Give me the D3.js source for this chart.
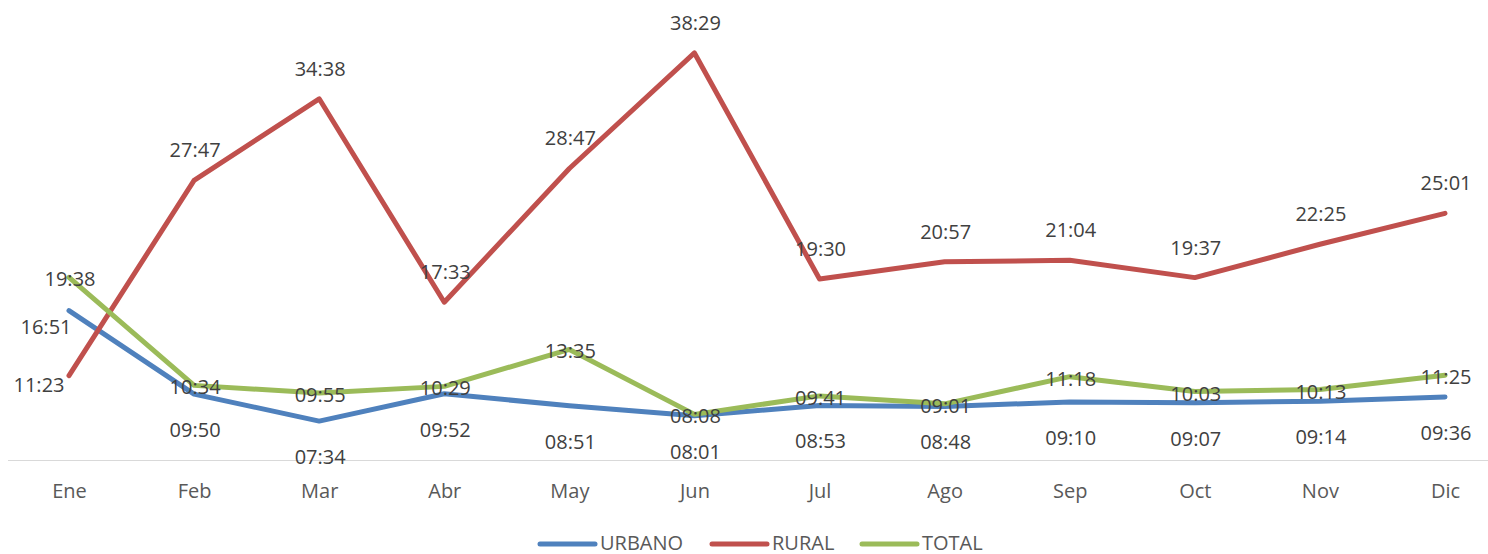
<!DOCTYPE html>
<html>
<head>
<meta charset="utf-8">
<script src="https://cdn.jsdelivr.net/npm/d3@7"></script>
<style>
  body { margin: 0; background: #fff; }
  svg text { font-family: "Open Sans", sans-serif; }
</style>
</head>
<body>
<div class="chart"></div>
<script>
const months = ["Ene", "Feb", "Mar", "Abr", "May", "Jun", "Jul", "Ago", "Sep", "Oct", "Nov", "Dic"];
const urbano = ["16:51", "09:50", "07:34", "09:52", "08:51", "08:01", "08:53", "08:48", "09:10", "09:07", "09:14", "09:36"];
const rural  = ["11:23", "27:47", "34:38", "17:33", "28:47", "38:29", "19:30", "20:57", "21:04", "19:37", "22:25", "25:01"];
const total  = ["19:38", "10:34", "09:55", "10:29", "13:35", "08:08", "09:41", "09:01", "11:18", "10:03", "10:13", "11:25"];

const w = 1488, h = 554;

// mm:ss -> minutes
const toMin = s => { let p = s.split(":"); return +p[0] + (+p[1]) / 60; };

const series = [
  { name: "URBANO", vals: urbano, color: "#4f81bd", dy: 36 },
  { name: "RURAL",  vals: rural,  color: "#c0504d", dy: -30 },
  { name: "TOTAL",  vals: total,  color: "#9bbb59", dy: 2 }
];

const x = d3.scalePoint().domain(months).range([69, 1445]);
const y = d3.scaleLinear().domain([4.3, 38.48]).range([460, 53]);

const svg = d3.select(".chart").append("svg")
  .attr("width", w).attr("height", h);

// baseline axis
svg.append("line")
  .attr("x1", 8).attr("x2", w).attr("y1", 460.5).attr("y2", 460.5)
  .attr("stroke", "#d9d9d9").attr("stroke-width", 1);

const xAxis = svg.append("g").attr("transform", "translate(0,460)")
  .call(d3.axisBottom(x).tickSize(0).tickPadding(24));
xAxis.select(".domain").remove();
xAxis.selectAll("text")
  .attr("font-size", 20).attr("fill", "#595959")
  .style("font-family", "'Open Sans', sans-serif");

const line = d3.line()
  .x((d, i) => x(months[i]))
  .y(d => y(toMin(d)));

series.forEach(s => {
  svg.append("path")
    .datum(s.vals)
    .attr("d", line)
    .attr("fill", "none")
    .attr("stroke", s.color)
    .attr("stroke-width", 5)
    .attr("stroke-linejoin", "round")
    .attr("stroke-linecap", "round");
});

// data labels
series.forEach(s => {
  svg.append("g").selectAll("text")
    .data(s.vals)
    .enter()
    .append("text")
    .attr("x", (d, i) => {
      let px = x(months[i]);
      if (i == 0 && s.name == "URBANO") return px - 23;
      if (i == 0 && s.name == "RURAL") return px - 30;
      return px + 1;
    })
    .attr("y", (d, i) => {
      let py = y(toMin(d));
      if (i == 0 && s.name == "URBANO") return py + 16;
      if (i == 0 && s.name == "RURAL") return py + 9;
      return py + s.dy;
    })
    .attr("dy", "0.35em")
    .attr("text-anchor", "middle")
    .attr("font-size", 20)
    .attr("fill", "#404040")
    .text(d => d);
});

// legend
const legX = [540, 712, 862];
const leg = svg.append("g");
series.forEach((s, i) => {
  leg.append("line")
    .attr("x1", legX[i]).attr("x2", legX[i] + 55)
    .attr("y1", 544).attr("y2", 544)
    .attr("stroke", s.color).attr("stroke-width", 5)
    .attr("stroke-linecap", "round");
  leg.append("text")
    .attr("x", legX[i] + 60).attr("y", 543)
    .attr("dy", "0.35em")
    .attr("font-size", 20)
    .attr("fill", "#595959")
    .text(s.name);
});
</script>
</body>
</html>
